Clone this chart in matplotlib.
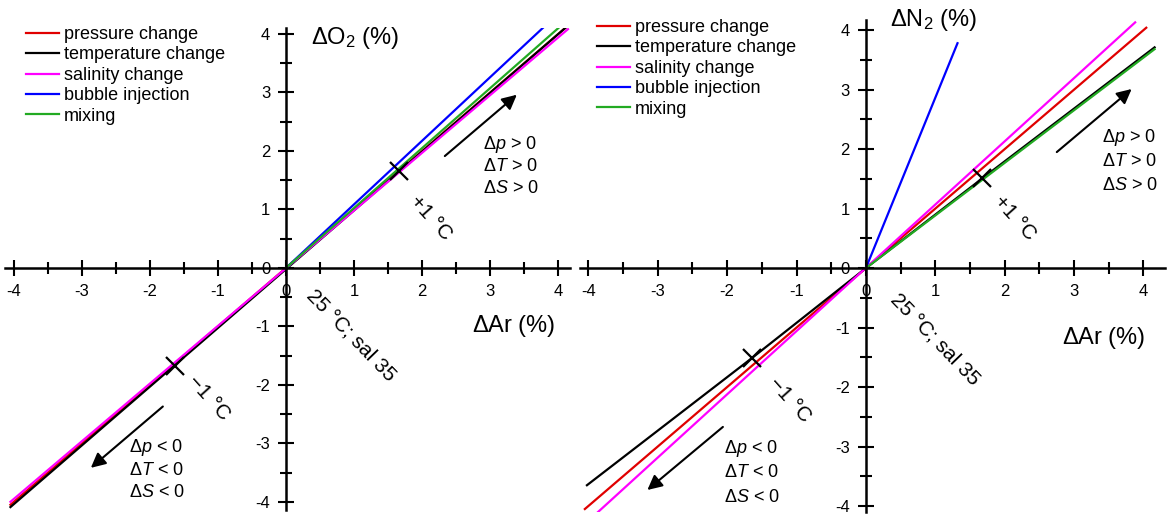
import numpy as np
import matplotlib
matplotlib.use('Agg')
import matplotlib.pyplot as plt
from matplotlib.ticker import MultipleLocator

plt.rcParams['font.family'] = ['Liberation Sans', 'DejaVu Sans']
plt.rcParams['mathtext.fontset'] = 'custom'
plt.rcParams['mathtext.rm'] = 'Liberation Sans'
plt.rcParams['mathtext.it'] = 'Liberation Sans:italic'
plt.rcParams['axes.unicode_minus'] = False

labels = ['pressure change', 'temperature change', 'salinity change',
          'bubble injection', 'mixing']
colors = ['#e00000', 'black', '#ff00ff', '#0000ff', '#22aa22']

# left panel: dAr (%) vs dO2 (%)
o2_x = [[-4.05, 4.15], [-4.05, 4.12], [-4.05, 4.14], [0, 3.77], [0, 4.0]]
o2_y = [[-4.05, 4.15], [-4.09, 4.12], [-4.0, 4.08], [0, 4.1], [0, 4.1]]
o2_mark_x = [1.66, -1.63]
o2_mark_y = [1.66, -1.675]

# right panel: dAr (%) vs dN2 (%)
n2_x = [[-4.05, 4.04], [-4.02, -1.64, 0, 1.68, 4.16], [-3.86, 3.88], [0, 1.32], [0, 4.16]]
n2_y = [[-4.05, 4.04], [-3.65, -1.51, 0, 1.51, 3.71], [-4.1, 4.13], [0, 3.78], [0, 3.68]]
n2_mark_x = [1.68, -1.64]
n2_mark_y = [1.51, -1.51]


def setup_axes(ax, xlim, ylim):
    ax.set_xlim(*xlim)
    ax.set_ylim(*ylim)
    for s in ['top', 'right']:
        ax.spines[s].set_visible(False)
    for s in ['left', 'bottom']:
        ax.spines[s].set_position('zero')
        ax.spines[s].set_linewidth(1.8)
    ax.xaxis.set_major_locator(MultipleLocator(1))
    ax.yaxis.set_major_locator(MultipleLocator(1))
    ax.xaxis.set_minor_locator(MultipleLocator(0.5))
    ax.yaxis.set_minor_locator(MultipleLocator(0.5))
    ax.tick_params(which='major', direction='inout', length=11, width=1.5,
                   labelsize=12, pad=6)
    ax.tick_params(which='minor', direction='inout', length=9, width=1.5)
    ax.patch.set_alpha(0)
    for t in ax.yaxis.get_major_ticks():
        t.label1.set_bbox(dict(facecolor='white', edgecolor='none', pad=1))


def draw_panel(ax, xs, ys, mx, my):
    for x, y, c, l in zip(xs, ys, colors, labels):
        ax.plot(x, y, color=c, lw=1.6, label=l)
    ax.plot(mx, my, 'x', color='black', ms=13, mew=1.6)


def add_legend(ax, x0, y0):
    ax.legend(loc='upper left', bbox_to_anchor=(x0 / 1169, 1 - y0 / 515),
              bbox_transform=fig.transFigure, frameon=False, borderpad=0,
              borderaxespad=0, fontsize=13, handlelength=1.85,
              handletextpad=0.25, labelspacing=0.19)


fig = plt.figure(figsize=(11.69, 5.15), dpi=100)

ax1 = fig.add_axes([5/1169, 5/515, 565/1169, 482/515])
setup_axes(ax1, (-4.13, 4.17), (-4.14, 4.1))
draw_panel(ax1, o2_x, o2_y, o2_mark_x, o2_mark_y)
add_legend(ax1, 26, 26)
ax1.text(0.37, 3.93, r'$\mathit{Δ}$O$_2$ (%)', fontsize=17, va='center', ha='left')
ax1.text(3.96, -0.99, r'$\mathit{Δ}$Ar (%)', fontsize=17, va='center', ha='right')
ax1.text(0.96, -1.15, '25 °C; sal 35', fontsize=15, rotation=-46,
         ha='center', va='center', rotation_mode='anchor')
ax1.text(2.12, 0.85, '+1 °C', fontsize=15, rotation=-48, ha='center', va='center',
         rotation_mode='anchor')
ax1.text(-1.13, -2.22, '−1 °C', fontsize=15, rotation=-48, ha='center', va='center',
         rotation_mode='anchor')
ax1.annotate('', xy=(3.42, 2.99), xytext=(2.30, 1.88),
             arrowprops=dict(arrowstyle='-|>', color='black', lw=1.5, mutation_scale=22))
ax1.annotate('', xy=(-2.90, -3.45), xytext=(-1.78, -2.34),
             arrowprops=dict(arrowstyle='-|>', color='black', lw=1.5, mutation_scale=22))
for i, s in enumerate(['Δ$\\mathit{p}$ > 0', 'Δ$\\mathit{T}$ > 0', 'Δ$\\mathit{S}$ > 0']):
    ax1.text(2.89, 2.10 - 0.37 * i, s, fontsize=13, va='center', ha='left')
for i, s in enumerate(['Δ$\\mathit{p}$ < 0', 'Δ$\\mathit{T}$ < 0', 'Δ$\\mathit{S}$ < 0']):
    ax1.text(-2.31, -3.08 - 0.38 * i, s, fontsize=13, va='center', ha='left')

ax2 = fig.add_axes([580/1169, 3/515, 585/1169, 492/515])
setup_axes(ax2, (-4.12, 4.31), (-4.1, 4.17))
draw_panel(ax2, n2_x, n2_y, n2_mark_x, n2_mark_y)
add_legend(ax2, 597, 19)
ax2.text(0.35, 4.17, r'$\mathit{Δ}$N$_2$ (%)', fontsize=17, va='center', ha='left')
ax2.text(4.03, -1.18, r'$\mathit{Δ}$Ar (%)', fontsize=17, va='center', ha='right')
ax2.text(1.0, -1.2, '25 °C; sal 35', fontsize=15, rotation=-46,
         ha='center', va='center', rotation_mode='anchor')
ax2.text(2.15, 0.84, '+1 °C', fontsize=15, rotation=-48, ha='center', va='center',
         rotation_mode='anchor')
ax2.text(-1.10, -2.22, '−1 °C', fontsize=15, rotation=-48, ha='center', va='center',
         rotation_mode='anchor')
ax2.annotate('', xy=(3.86, 3.04), xytext=(2.72, 1.92),
             arrowprops=dict(arrowstyle='-|>', color='black', lw=1.5, mutation_scale=22))
ax2.annotate('', xy=(-3.18, -3.76), xytext=(-2.03, -2.64),
             arrowprops=dict(arrowstyle='-|>', color='black', lw=1.5, mutation_scale=22))
for i, s in enumerate(['Δ$\\mathit{p}$ > 0', 'Δ$\\mathit{T}$ > 0', 'Δ$\\mathit{S}$ > 0']):
    ax2.text(3.40, 2.20 - 0.41 * i, s, fontsize=13, va='center', ha='left')
for i, s in enumerate(['Δ$\\mathit{p}$ < 0', 'Δ$\\mathit{T}$ < 0', 'Δ$\\mathit{S}$ < 0']):
    ax2.text(-2.05, -3.03 - 0.41 * i, s, fontsize=13, va='center', ha='left')

fig.savefig('out.png', dpi=100)
